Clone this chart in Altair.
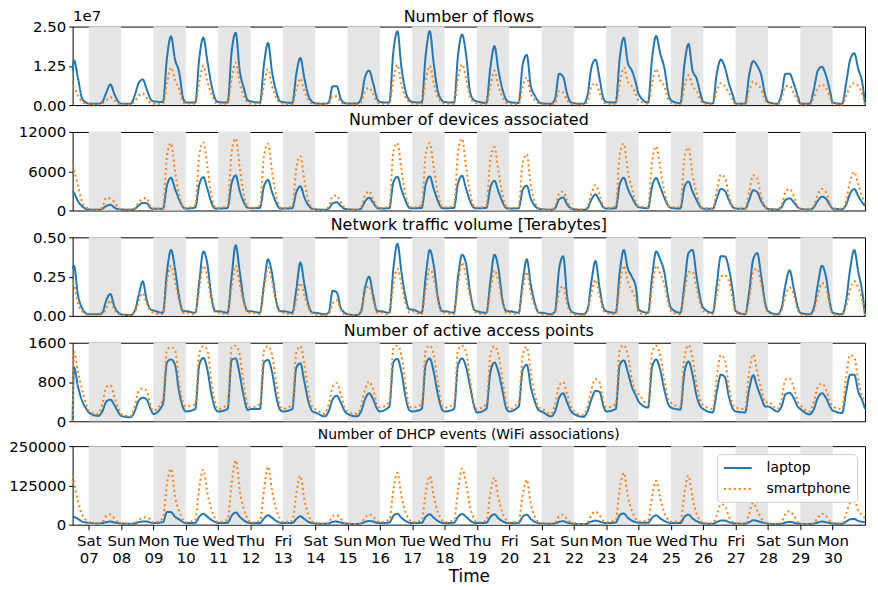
import json
import altair as alt
import pandas as pd

# ---------------- sampling hours ----------------
FIRST_DAY_HOURS = [12, 13, 16, 19, 22]          # Fri 06 (afternoon only)
DAY_HOURS = [0, 7, 10, 13, 16, 19, 22]          # every full day Sat 07 .. Mon 30
END_HOUR = 600                                  # Tue 31 00:00

TICK_DAYS = ["Sat", "Sun", "Mon", "Tue", "Wed", "Thu", "Fri",
             "Sat", "Sun", "Mon", "Tue", "Wed", "Thu", "Fri",
             "Sat", "Sun", "Mon", "Tue", "Wed", "Thu", "Fri",
             "Sat", "Sun", "Mon"]
TICK_DATES = ["07", "08", "09", "10", "11", "12", "13", "14", "15", "16", "17", "18",
              "19", "20", "21", "22", "23", "24", "25", "26", "27", "28", "29", "30"]
SHADED_DAYS = [1, 3, 5, 7, 9, 11, 13, 15, 17, 19, 21, 23]

DEVICES = ["laptop", "smartphone"]
COLORS = ["#1f77b4", "#ff7f0e"]

# ---------------- data (one row per day) ----------------
FLOWS_LAPTOP = [
    [1.1, 1.42, 0.85, 0.22, 0.08],
    [0.05, 0.04, 0.1, 0.4, 0.66, 0.35, 0.1],
    [0.05, 0.04, 0.3, 0.7, 0.82, 0.5, 0.18],
    [0.12, 0.1, 1.5, 2.19, 1.45, 1.05, 0.22],
    [0.08, 0.08, 1.5, 2.15, 1.4, 0.65, 0.18],
    [0.1, 0.08, 1.7, 2.3, 1.1, 0.55, 0.15],
    [0.12, 0.08, 1.3, 1.98, 1.05, 0.45, 0.12],
    [0.1, 0.07, 1.0, 1.5, 0.85, 0.3, 0.1],
    [0.06, 0.04, 0.08, 0.6, 0.6, 0.2, 0.06],
    [0.05, 0.05, 0.2, 0.9, 1.1, 0.7, 0.2],
    [0.1, 0.08, 1.7, 2.35, 1.2, 0.45, 0.15],
    [0.1, 0.08, 1.6, 2.35, 1.3, 0.45, 0.15],
    [0.1, 0.08, 1.6, 2.25, 1.6, 0.4, 0.15],
    [0.12, 0.07, 1.2, 1.88, 1.1, 0.5, 0.15],
    [0.1, 0.07, 1.3, 1.6, 0.6, 0.3, 0.1],
    [0.06, 0.04, 0.2, 1.0, 0.9, 0.35, 0.08],
    [0.06, 0.04, 0.3, 1.2, 1.45, 0.85, 0.2],
    [0.1, 0.08, 1.5, 2.15, 1.35, 1.1, 0.7],
    [0.35, 0.08, 1.5, 2.2, 1.65, 1.2, 0.4],
    [0.15, 0.06, 1.3, 1.95, 1.1, 0.85, 0.35],
    [0.1, 0.05, 1.0, 1.45, 1.2, 0.7, 0.3],
    [0.05, 0.04, 0.95, 1.4, 1.25, 0.95, 0.3],
    [0.1, 0.04, 0.35, 1.0, 1.0, 0.7, 0.3],
    [0.05, 0.04, 0.5, 1.1, 1.22, 0.95, 0.45],
    [0.08, 0.04, 0.7, 1.45, 1.65, 1.15, 0.7],
    [0.02],
]
FLOWS_SMARTPHONE = [
    [0.6, 0.58, 0.3, 0.1, 0.04],
    [0.03, 0.02, 0.05, 0.15, 0.25, 0.15, 0.04],
    [0.03, 0.02, 0.12, 0.3, 0.37, 0.22, 0.06],
    [0.05, 0.04, 0.7, 1.2, 0.8, 0.5, 0.1],
    [0.05, 0.04, 0.75, 1.25, 0.75, 0.35, 0.08],
    [0.05, 0.04, 0.85, 1.35, 0.7, 0.3, 0.08],
    [0.05, 0.04, 0.65, 1.15, 0.6, 0.25, 0.06],
    [0.05, 0.03, 0.5, 0.85, 0.45, 0.15, 0.05],
    [0.03, 0.02, 0.04, 0.28, 0.28, 0.1, 0.03],
    [0.03, 0.02, 0.08, 0.45, 0.55, 0.35, 0.1],
    [0.05, 0.04, 0.8, 1.28, 0.65, 0.25, 0.08],
    [0.05, 0.04, 0.8, 1.25, 0.7, 0.25, 0.08],
    [0.05, 0.04, 0.85, 1.3, 0.85, 0.25, 0.08],
    [0.05, 0.04, 0.6, 1.1, 0.6, 0.25, 0.07],
    [0.05, 0.03, 0.6, 0.88, 0.35, 0.15, 0.05],
    [0.03, 0.02, 0.08, 0.45, 0.4, 0.15, 0.04],
    [0.03, 0.02, 0.12, 0.6, 0.7, 0.4, 0.1],
    [0.05, 0.04, 0.7, 1.2, 0.75, 0.6, 0.35],
    [0.15, 0.04, 0.7, 1.15, 0.8, 0.6, 0.2],
    [0.08, 0.03, 0.6, 0.95, 0.6, 0.45, 0.15],
    [0.05, 0.03, 0.45, 0.7, 0.6, 0.4, 0.15],
    [0.03, 0.02, 0.45, 0.75, 0.65, 0.5, 0.15],
    [0.05, 0.02, 0.2, 0.6, 0.62, 0.4, 0.15],
    [0.03, 0.02, 0.25, 0.55, 0.65, 0.55, 0.25],
    [0.04, 0.02, 0.3, 0.6, 0.7, 0.6, 0.35],
    [0.01],
]
DEVICES_LAPTOP = [
    [2950, 2700, 1400, 650, 250],
    [150, 100, 250, 700, 880, 450, 200],
    [150, 120, 250, 750, 1150, 1100, 350],
    [250, 250, 3800, 5000, 3300, 1700, 500],
    [300, 450, 4000, 5100, 3300, 1200, 300],
    [300, 400, 4200, 5350, 3000, 1300, 400],
    [350, 400, 3700, 4650, 2800, 1200, 300],
    [300, 350, 2800, 3700, 2000, 800, 250],
    [200, 100, 300, 1100, 1250, 700, 250],
    [200, 100, 300, 1400, 1950, 1200, 400],
    [300, 350, 4300, 5150, 3200, 1500, 400],
    [350, 400, 4000, 5200, 3300, 1500, 400],
    [350, 400, 4200, 5300, 3300, 1400, 400],
    [350, 400, 3500, 4550, 2900, 1300, 350],
    [300, 350, 3200, 3800, 1800, 700, 250],
    [200, 100, 350, 1700, 2000, 900, 300],
    [200, 100, 300, 1700, 2450, 1500, 450],
    [300, 350, 4000, 5000, 3300, 2000, 900],
    [500, 350, 3700, 4950, 3600, 2000, 700],
    [400, 300, 3600, 4400, 2900, 1600, 500],
    [300, 250, 1800, 3300, 3000, 1600, 500],
    [300, 250, 1600, 3100, 2800, 1400, 500],
    [250, 150, 500, 1600, 1850, 1300, 500],
    [250, 150, 500, 1500, 2100, 1800, 800],
    [300, 200, 900, 2600, 3300, 2200, 1200],
    [700],
]
DEVICES_SMARTPHONE = [
    [6900, 6200, 3800, 1300, 500],
    [250, 150, 500, 1950, 1800, 1300, 350],
    [200, 150, 350, 1200, 1800, 1900, 500],
    [300, 250, 8400, 10300, 6000, 2400, 600],
    [400, 800, 8500, 10400, 6600, 2200, 500],
    [400, 700, 9000, 11000, 6500, 2500, 500],
    [400, 700, 8300, 10200, 6000, 2300, 500],
    [350, 600, 6500, 8300, 4500, 1500, 350],
    [250, 150, 600, 2200, 2300, 1300, 400],
    [250, 150, 500, 2300, 2950, 1700, 500],
    [400, 600, 9000, 10300, 6200, 2500, 600],
    [500, 700, 8500, 10300, 6500, 2700, 600],
    [500, 700, 9000, 11000, 6500, 2600, 600],
    [450, 700, 7800, 9700, 6000, 2400, 500],
    [400, 600, 7200, 8600, 3800, 1300, 350],
    [250, 150, 600, 2600, 2900, 1400, 400],
    [250, 150, 500, 2600, 3900, 2400, 600],
    [400, 600, 8600, 10200, 6000, 3400, 1200],
    [700, 500, 7500, 9800, 6500, 3000, 800],
    [500, 500, 8000, 9600, 5500, 2600, 700],
    [400, 300, 3000, 5500, 5000, 2300, 600],
    [400, 300, 2800, 5400, 4900, 2000, 600],
    [300, 200, 800, 2800, 3300, 2300, 700],
    [300, 200, 700, 2500, 3300, 2800, 1000],
    [400, 250, 1500, 4500, 5900, 4000, 2000],
    [1000],
]
TRAFFIC_LAPTOP = [
    [0.3, 0.32, 0.13, 0.05, 0.015],
    [0.01, 0.01, 0.02, 0.1, 0.14, 0.06, 0.02],
    [0.01, 0.005, 0.03, 0.13, 0.22, 0.1, 0.04],
    [0.035, 0.02, 0.28, 0.42, 0.3, 0.12, 0.03],
    [0.03, 0.02, 0.22, 0.41, 0.33, 0.12, 0.03],
    [0.03, 0.02, 0.25, 0.45, 0.28, 0.1, 0.03],
    [0.03, 0.02, 0.2, 0.36, 0.27, 0.1, 0.03],
    [0.03, 0.02, 0.17, 0.34, 0.2, 0.07, 0.02],
    [0.02, 0.01, 0.02, 0.16, 0.15, 0.05, 0.02],
    [0.01, 0.005, 0.03, 0.18, 0.25, 0.13, 0.03],
    [0.03, 0.02, 0.3, 0.46, 0.28, 0.12, 0.04],
    [0.04, 0.02, 0.25, 0.42, 0.32, 0.12, 0.03],
    [0.03, 0.02, 0.25, 0.39, 0.33, 0.15, 0.04],
    [0.03, 0.02, 0.22, 0.39, 0.3, 0.1, 0.03],
    [0.03, 0.02, 0.22, 0.36, 0.2, 0.08, 0.02],
    [0.02, 0.01, 0.03, 0.3, 0.38, 0.12, 0.03],
    [0.02, 0.01, 0.04, 0.22, 0.35, 0.18, 0.05],
    [0.03, 0.02, 0.28, 0.42, 0.3, 0.25, 0.18],
    [0.04, 0.02, 0.25, 0.41, 0.36, 0.28, 0.12],
    [0.05, 0.02, 0.2, 0.4, 0.42, 0.25, 0.1],
    [0.05, 0.02, 0.2, 0.38, 0.38, 0.3, 0.15],
    [0.03, 0.01, 0.15, 0.36, 0.4, 0.25, 0.08],
    [0.03, 0.01, 0.05, 0.2, 0.29, 0.18, 0.06],
    [0.02, 0.01, 0.05, 0.2, 0.32, 0.25, 0.08],
    [0.02, 0.01, 0.1, 0.3, 0.42, 0.28, 0.15],
    [0.0],
]
TRAFFIC_SMARTPHONE = [
    [0.21, 0.2, 0.08, 0.03, 0.01],
    [0.005, 0.005, 0.01, 0.05, 0.1, 0.04, 0.01],
    [0.01, 0.005, 0.02, 0.09, 0.145, 0.08, 0.03],
    [0.02, 0.01, 0.22, 0.32, 0.22, 0.1, 0.02],
    [0.02, 0.01, 0.17, 0.32, 0.25, 0.09, 0.02],
    [0.02, 0.01, 0.18, 0.32, 0.2, 0.08, 0.02],
    [0.02, 0.01, 0.17, 0.31, 0.22, 0.08, 0.02],
    [0.02, 0.01, 0.1, 0.21, 0.13, 0.05, 0.015],
    [0.01, 0.005, 0.01, 0.08, 0.1, 0.04, 0.01],
    [0.01, 0.005, 0.02, 0.15, 0.19, 0.1, 0.02],
    [0.02, 0.01, 0.2, 0.3, 0.2, 0.08, 0.02],
    [0.03, 0.01, 0.17, 0.3, 0.24, 0.1, 0.02],
    [0.02, 0.01, 0.2, 0.34, 0.25, 0.12, 0.03],
    [0.02, 0.01, 0.16, 0.29, 0.22, 0.08, 0.02],
    [0.02, 0.01, 0.17, 0.28, 0.15, 0.06, 0.02],
    [0.01, 0.005, 0.02, 0.15, 0.19, 0.07, 0.02],
    [0.01, 0.005, 0.03, 0.15, 0.23, 0.13, 0.03],
    [0.02, 0.01, 0.2, 0.32, 0.22, 0.16, 0.1],
    [0.02, 0.01, 0.18, 0.32, 0.27, 0.2, 0.08],
    [0.03, 0.01, 0.15, 0.28, 0.28, 0.18, 0.07],
    [0.03, 0.01, 0.14, 0.25, 0.26, 0.22, 0.1],
    [0.02, 0.01, 0.1, 0.28, 0.3, 0.2, 0.06],
    [0.02, 0.005, 0.03, 0.13, 0.18, 0.14, 0.04],
    [0.01, 0.005, 0.03, 0.13, 0.21, 0.18, 0.06],
    [0.01, 0.005, 0.06, 0.17, 0.22, 0.18, 0.1],
    [0.0],
]
APS_LAPTOP = [
    [0, 1100, 700, 420, 260],
    [180, 110, 200, 400, 440, 330, 180],
    [110, 80, 200, 420, 480, 440, 240],
    [150, 350, 1200, 1260, 1150, 600, 280],
    [200, 250, 1150, 1290, 1050, 550, 250],
    [200, 250, 1250, 1280, 950, 500, 230],
    [250, 250, 1200, 1250, 1000, 520, 230],
    [200, 250, 1100, 1180, 800, 400, 200],
    [180, 100, 200, 450, 520, 380, 200],
    [150, 100, 200, 450, 570, 450, 250],
    [200, 300, 1200, 1270, 1000, 500, 220],
    [200, 250, 1150, 1280, 1000, 550, 250],
    [200, 250, 1150, 1280, 1100, 700, 300],
    [180, 250, 1000, 1200, 1000, 620, 250],
    [200, 300, 1050, 1150, 700, 400, 220],
    [200, 100, 200, 480, 570, 380, 200],
    [150, 90, 200, 450, 620, 600, 300],
    [200, 250, 1150, 1240, 1000, 700, 520],
    [400, 280, 1100, 1260, 1050, 650, 350],
    [280, 240, 1000, 1220, 950, 520, 300],
    [250, 180, 600, 950, 900, 500, 250],
    [200, 180, 650, 940, 700, 480, 300],
    [300, 200, 300, 550, 580, 480, 300],
    [250, 140, 250, 480, 570, 480, 300],
    [220, 170, 600, 950, 950, 600, 420],
    [250],
]
APS_SMARTPHONE = [
    [0, 1420, 1000, 650, 350],
    [220, 150, 350, 700, 730, 500, 250],
    [150, 100, 300, 620, 670, 620, 300],
    [220, 450, 1450, 1510, 1450, 780, 380],
    [300, 350, 1400, 1530, 1450, 800, 350],
    [250, 350, 1500, 1540, 1350, 750, 320],
    [280, 350, 1450, 1530, 1350, 800, 320],
    [250, 350, 1400, 1530, 1150, 600, 280],
    [250, 150, 350, 700, 780, 550, 280],
    [200, 150, 300, 650, 810, 650, 330],
    [280, 400, 1480, 1540, 1350, 750, 300],
    [280, 350, 1450, 1540, 1350, 800, 320],
    [280, 350, 1450, 1540, 1400, 820, 350],
    [250, 350, 1350, 1530, 1350, 850, 350],
    [250, 400, 1350, 1520, 1000, 550, 280],
    [260, 150, 350, 720, 800, 550, 280],
    [200, 130, 300, 650, 860, 800, 400],
    [280, 350, 1450, 1550, 1350, 850, 600],
    [550, 350, 1400, 1540, 1350, 850, 450],
    [380, 300, 1300, 1550, 1300, 750, 400],
    [330, 250, 900, 1350, 1250, 700, 330],
    [280, 250, 1000, 1360, 1000, 650, 380],
    [400, 250, 450, 850, 870, 700, 400],
    [330, 200, 400, 700, 770, 650, 400],
    [300, 250, 900, 1350, 1300, 850, 500],
    [450],
]
DHCP_LAPTOP = [
    [27000, 25000, 18000, 10000, 7000],
    [6000, 4000, 5000, 8000, 10000, 7000, 5000],
    [4000, 3000, 4000, 8000, 10000, 10000, 7000],
    [5000, 8000, 40000, 40000, 25000, 17000, 8000],
    [5000, 6000, 25000, 35000, 25000, 15000, 8000],
    [5000, 6000, 28000, 39000, 25000, 14000, 7000],
    [5000, 5000, 20000, 30000, 22000, 12000, 6000],
    [5000, 5000, 18000, 27000, 18000, 9000, 5000],
    [4000, 3000, 4000, 9000, 10000, 7000, 4000],
    [3000, 2000, 4000, 9000, 12000, 10000, 6000],
    [5000, 7000, 28000, 35000, 22000, 12000, 6000],
    [5000, 6000, 25000, 33000, 22000, 12000, 6000],
    [5000, 6000, 25000, 34000, 25000, 13000, 6000],
    [5000, 6000, 25000, 33000, 20000, 11000, 6000],
    [5000, 6000, 25000, 32000, 18000, 9000, 5000],
    [4000, 3000, 4000, 9000, 11000, 7000, 4000],
    [3000, 2000, 4000, 10000, 13000, 10000, 6000],
    [5000, 7000, 30000, 36000, 22000, 13000, 8000],
    [6000, 6000, 22000, 30000, 20000, 12000, 7000],
    [5000, 5000, 25000, 32000, 20000, 11000, 6000],
    [4000, 3000, 8000, 13000, 13000, 8000, 5000],
    [4000, 3000, 8000, 14000, 12000, 8000, 5000],
    [3000, 2000, 3000, 7000, 9000, 7000, 4000],
    [3000, 2000, 3000, 7000, 10000, 8000, 5000],
    [4000, 3000, 10000, 17000, 18000, 12000, 9000],
    [8000],
]
DHCP_SMARTPHONE = [
    [155000, 135000, 75000, 32000, 14000],
    [8000, 4000, 8000, 28000, 33000, 20000, 8000],
    [5000, 3000, 6000, 15000, 22000, 24000, 15000],
    [6000, 20000, 130000, 178000, 90000, 45000, 15000],
    [8000, 15000, 120000, 175000, 100000, 50000, 18000],
    [8000, 15000, 130000, 205000, 110000, 50000, 18000],
    [7000, 12000, 110000, 185000, 110000, 50000, 18000],
    [8000, 12000, 100000, 155000, 80000, 30000, 10000],
    [6000, 3000, 6000, 28000, 30000, 18000, 6000],
    [4000, 2000, 6000, 22000, 33000, 25000, 12000],
    [8000, 15000, 110000, 165000, 90000, 40000, 15000],
    [8000, 14000, 100000, 155000, 90000, 40000, 15000],
    [8000, 14000, 110000, 178000, 130000, 55000, 19000],
    [8000, 12000, 100000, 150000, 85000, 38000, 14000],
    [7000, 12000, 95000, 143000, 65000, 25000, 8000],
    [5000, 3000, 6000, 27000, 31000, 17000, 6000],
    [4000, 2000, 7000, 30000, 42000, 30000, 12000],
    [8000, 15000, 115000, 165000, 90000, 45000, 18000],
    [10000, 12000, 90000, 140000, 85000, 40000, 15000],
    [9000, 12000, 100000, 156000, 85000, 35000, 12000],
    [6000, 4000, 30000, 65000, 60000, 25000, 8000],
    [5000, 3000, 35000, 70000, 45000, 20000, 7000],
    [4000, 2000, 8000, 35000, 43000, 30000, 10000],
    [3000, 2000, 6000, 22000, 35000, 28000, 12000],
    [5000, 4000, 35000, 70000, 75000, 45000, 30000],
    [20000],
]

# title, laptop, smartphone, ymax, y ticks, format, y-offset label, title size, title offset
PANELS = [
    ("Number of flows", FLOWS_LAPTOP, FLOWS_SMARTPHONE, 2.5, [0, 1.25, 2.5], ".2f", "1e7", 16, -16),
    ("Number of devices associated", DEVICES_LAPTOP, DEVICES_SMARTPHONE, 12000, [0, 6000, 12000], "d", None, 16, -3),
    ("Network traffic volume [Terabytes]", TRAFFIC_LAPTOP, TRAFFIC_SMARTPHONE, 0.5, [0, 0.25, 0.5], ".2f", None, 16, -3),
    ("Number of active access points", APS_LAPTOP, APS_SMARTPHONE, 1600, [0, 800, 1600], "d", None, 16, -3),
    ("Number of DHCP events (WiFi associations)", DHCP_LAPTOP, DHCP_SMARTPHONE, 250000, [0, 125000, 250000], "d", None, 14, -3),
]


def day_hours(d, n_days):
    if d == 0:
        return FIRST_DAY_HOURS
    if d == n_days - 1:
        return [END_HOUR]
    return [24 * d + h for h in DAY_HOURS]


def to_frame(laptop, smartphone):
    rows = []
    for dev, series in zip(DEVICES, [laptop, smartphone]):
        for d, vals in enumerate(series):
            for h, v in zip(day_hours(d, len(series)), vals):
                rows.append({"hour": h, "value": v, "device": dev})
    return pd.DataFrame(rows)


bands_df = pd.DataFrame({"start": [24 * d for d in SHADED_DAYS],
                         "end": [24 * (d + 1) for d in SHADED_DAYS]})
TICK_HOURS = [24 * (i + 1) for i in range(len(TICK_DATES))]
label_expr = ("[" + json.dumps(TICK_DAYS) + "[round(datum.value/24)-1], "
              + json.dumps(TICK_DATES) + "[round(datum.value/24)-1]]")

x_scale = alt.Scale(domain=[12, END_HOUR], nice=False, zero=False)
color_scale = alt.Scale(domain=DEVICES, range=COLORS)
dash_scale = alt.Scale(domain=DEVICES, range=[[1, 0], [2, 3]])

legend_kw = dict(title=None, orient="top-right", offset=8, symbolType="M-2,0H2",
                 symbolSize=196, symbolStrokeWidth=2, symbolOffset=7,
                 labelFontSize=14, labelFont="DejaVu Sans", labelColor="black",
                 fillColor="white", strokeColor="#cccccc", cornerRadius=4,
                 padding=6, rowPadding=6, labelOffset=21)

panels = []
n = len(PANELS)
for i, (title, lap, sm, ymax, yvals, fmt, ytitle, tsize, toff) in enumerate(PANELS):
    bottom = i == n - 1
    if bottom:
        x_axis = alt.Axis(values=TICK_HOURS, labelExpr=label_expr, title="Time",
                          titleFontSize=17, titleFontWeight="normal", titleColor="black",
                          labelFontSize=15, labelPadding=4, labelLineHeight=17,
                          tickSize=5, labelFlush=False, labelOverlap=False, titlePadding=3)
    else:
        x_axis = None
    df = to_frame(lap, sm)
    if ytitle:
        y_axis = alt.Axis(values=yvals, format=fmt, title=ytitle, titleAngle=0,
                          titleX=0, titleY=-3, titleAlign="left", titleBaseline="bottom",
                          titleFontSize=15, titleFontWeight="normal", titleColor="black")
    else:
        y_axis = alt.Axis(values=yvals, format=fmt, title=None)

    bands = alt.Chart(bands_df).mark_rect(color="#e5e5e5").encode(
        x=alt.X("start:Q", scale=x_scale, axis=x_axis,
                title="Time" if bottom else None),
        x2="end:Q",
    )
    if bottom:
        color_enc = alt.Color("device:N", scale=color_scale, legend=alt.Legend(**legend_kw))
        dash_enc = alt.StrokeDash("device:N", scale=dash_scale, legend=alt.Legend(**legend_kw))
    else:
        color_enc = alt.Color("device:N", scale=color_scale, legend=None)
        dash_enc = alt.StrokeDash("device:N", scale=dash_scale, legend=None)
    lines = alt.Chart(df).mark_line(strokeWidth=2, interpolate="monotone").encode(
        x=alt.X("hour:Q", scale=x_scale, axis=x_axis,
                title="Time" if bottom else None),
        y=alt.Y("value:Q", scale=alt.Scale(domain=[0, ymax], nice=False), axis=y_axis),
        color=color_enc,
        strokeDash=dash_enc,
        order=alt.Order("hour:Q"),
    )
    panel = alt.layer(bands, lines).properties(
        width=797, height=79,
        title=alt.TitleParams(title, fontSize=tsize, frame="group", offset=toff,
                              anchor="middle", fontWeight="normal", color="black",
                              font="DejaVu Sans"),
    )
    panels.append(panel)

chart = alt.vconcat(*panels, spacing=-3).resolve_legend(
    color="independent", strokeDash="independent"
).properties(padding={"left": 0, "top": -2, "right": 0, "bottom": 0}).configure(
    font="DejaVu Sans"
).configure_view(
    stroke="black", strokeWidth=1
).configure_axis(
    grid=False, domain=False, labelFontSize=15, labelColor="black",
    tickColor="black", tickSize=4, labelFont="DejaVu Sans", titleFont="DejaVu Sans",
    labelPadding=3
)

chart.save("out.html", embed_options={"renderer": "svg", "actions": False})
